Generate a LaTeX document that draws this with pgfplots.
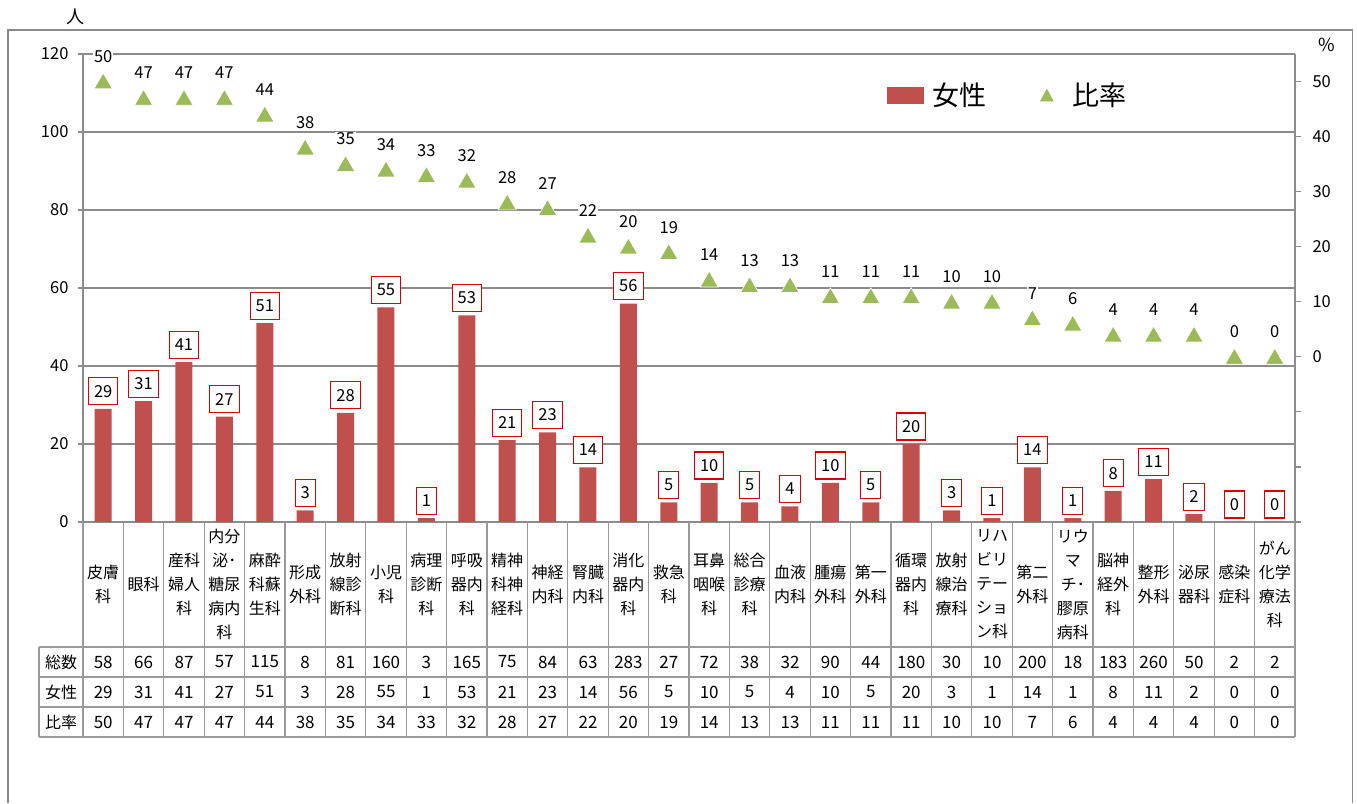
\documentclass[border=0pt]{standalone}
\usepackage{fontspec}
\setmainfont{Noto Sans CJK JP}
\usepackage{pgfplots}
\usepackage{pgfplotstable}
\pgfplotsset{compat=1.18}

\definecolor{barred}{HTML}{C0504D}
\definecolor{trigreen}{HTML}{9BBB59}
\definecolor{boxred}{HTML}{DD0000}
\definecolor{linegray}{HTML}{8C8C8C}
\definecolor{tablegray}{HTML}{9A9A9A}

% department data: total staff, women, share of women (%)
\pgfplotstableread{
idx total female ratio
0   58    29  50
1   66    31  47
2   87    41  47
3   57    27  47
4   115   51  44
5   8     3   38
6   81    28  35
7   160   55  34
8   3     1   33
9   165   53  32
10  75    21  28
11  84    23  27
12  63    14  22
13  283   56  20
14  27    5   19
15  72    10  14
16  38    5   13
17  32    4   13
18  90    10  11
19  44    5   11
20  180   20  11
21  30    3   10
22  10    1   10
23  200   14  7
24  18    1   6
25  183   8   4
26  260   11  4
27  50    2   4
28  2     0   0
29  2     0   0
}\depttable

\newcommand{\tickfont}{\fontsize{16.5}{18}\selectfont}
\newcommand{\cellfont}{\fontsize{16}{24}\selectfont}
\newcommand{\numfont}{\fontsize{17}{20}\selectfont}

\begin{document}
\begin{tikzpicture}
\useasboundingbox (0pt,0pt) rectangle (1357pt,803pt);

% outer frame
\draw[linegray, line width=1.3pt] (8pt,0pt) -- (8pt,773pt) -- (1352.5pt,773pt) -- (1352.5pt,0pt);

% left axis: number of women
\begin{axis}[
  at={(83pt,281pt)}, anchor=south west,
  scale only axis, width=1212pt, height=468pt,
  xmin=-0.5, xmax=29.5, ymin=0, ymax=120,
  xtick=\empty,
  ytick={0,20,...,120},
  axis x line*=bottom, axis y line*=left,
  axis line style={linegray, line width=1.4pt},
  ymajorgrids, major grid style={linegray, line width=1.2pt},
  tick align=outside, major tick length=5pt,
  tick style={linegray, line width=1.2pt},
  /pgf/number format/assume math mode=true,
  yticklabel style={font=\tickfont, xshift=-6pt},
  clip=false,
]
\addplot[ybar, bar width=17pt, fill=barred, draw=none,
  nodes near coords,
  every node near coord/.append style={anchor=center, yshift=17.5pt,
    draw=boxred, fill=white, line width=1.1pt, font=\tickfont,
    inner xsep=5.5pt, inner ysep=0pt, minimum height=27pt, text=black}]
  table[x=idx, y=female] {\depttable};
\end{axis}

% right axis: share of women (%)
\begin{axis}[
  at={(83pt,281pt)}, anchor=south west,
  scale only axis, width=1212pt, height=468pt,
  xmin=-0.5, xmax=29.5, ymin=-30, ymax=55,
  axis x line=none, axis y line*=right,
  axis line style={linegray, line width=1.4pt},
  ytick={-30,-20,...,50},
  yticklabels={{},{},{},0,10,20,30,40,50},
  tick align=outside, major tick length=6pt,
  tick style={linegray, line width=1.2pt},
  /pgf/number format/assume math mode=true,
  yticklabel style={font=\tickfont, anchor=west, xshift=8pt},
  clip=false,
  legend columns=2,
  legend style={draw=none, fill=none, at={(rel axis cs:0.663,0.912)}, anchor=west,
    font=\fontsize{27}{30}\selectfont, inner sep=0pt,
    /tikz/every odd column/.append style={column sep=7pt},
    /tikz/every even column/.append style={column sep=52pt}},
]
\addlegendimage{legend image code/.code={\fill[barred] (0pt,-8pt) rectangle (36pt,8pt);}}
\addlegendentry{女性}
\addplot[only marks, mark=triangle*, mark size=10.5pt,
  mark options={fill=trigreen, draw=white, line width=0.6pt, yshift=-2pt},
  legend image code/.code={\fill[trigreen] (0pt,-6pt) -- (13pt,-6pt) -- (6.5pt,6pt) -- cycle;
    \path[draw=none, fill=none] (0pt,0pt) -- (23pt,0pt);},
  nodes near coords,
  every node near coord/.append style={anchor=center, yshift=27pt,
    fill=white, inner sep=1pt, font=\tickfont, text=black}]
  table[x=idx, y=ratio] {\depttable};
\addlegendentry{比率}
\end{axis}

% axis units
\node[font=\fontsize{18}{20}\selectfont] at (75pt,786pt) {人};
\node[font=\fontsize{18}{20}\selectfont] at (1327pt,758pt) {\%};

% data table below the plot
\begin{scope}[tablegray, line width=1.3pt]
  \draw (39pt,156pt) -- (1295pt,156pt);
  \draw (39pt,126pt) -- (1295pt,126pt);
  \draw (39pt,96pt) -- (1295pt,96pt);
  \draw (39pt,66pt) -- (1295pt,66pt);
  \draw (39pt,156pt) -- (39pt,66pt);
  \foreach \k in {0,...,30} {
    \draw ({83pt+40.4pt*\k},281pt) -- ({83pt+40.4pt*\k},66pt);
  }
\end{scope}

\node[font=\cellfont] at (61pt,141pt) {総数};
\node[font=\cellfont] at (61pt,111pt) {女性};
\node[font=\cellfont] at (61pt,81pt) {比率};

\foreach \lab [count=\i from 0] in {{皮膚\\科},{眼科},{産科\\婦人\\科},{内分\\泌･\\糖尿\\病内\\科},{麻酔\\科蘇\\生科},{形成\\外科},{放射\\線診\\断科},{小児\\科},{病理\\診断\\科},{呼吸\\器内\\科},{精神\\科神\\経科},{神経\\内科},{腎臓\\内科},{消化\\器内\\科},{救急\\科},{耳鼻\\咽喉\\科},{総合\\診療\\科},{血液\\内科},{腫瘍\\外科},{第一\\外科},{循環\\器内\\科},{放射\\線治\\療科},{リハ\\ビリ\\テー\\ショ\\ン科},{第二\\外科},{リウ\\マ\\チ･\\膠原\\病科},{脳神\\経外\\科},{整形\\外科},{泌尿\\器科},{感染\\症科},{がん\\化学\\療法\\科}} {
  \node[font=\cellfont, align=center, inner sep=0pt] at ({83pt+40.4pt*(\i+0.5)},218.5pt) {\lab};
}

\foreach \i in {0,...,29} {
  \pgfplotstablegetelem{\i}{total}\of\depttable
  \node[font=\numfont] at ({83pt+40.4pt*(\i+0.5)},141pt) {\pgfplotsretval};
  \pgfplotstablegetelem{\i}{female}\of\depttable
  \node[font=\numfont] at ({83pt+40.4pt*(\i+0.5)},111pt) {\pgfplotsretval};
  \pgfplotstablegetelem{\i}{ratio}\of\depttable
  \node[font=\numfont] at ({83pt+40.4pt*(\i+0.5)},81pt) {\pgfplotsretval};
}
\end{tikzpicture}
\end{document}
